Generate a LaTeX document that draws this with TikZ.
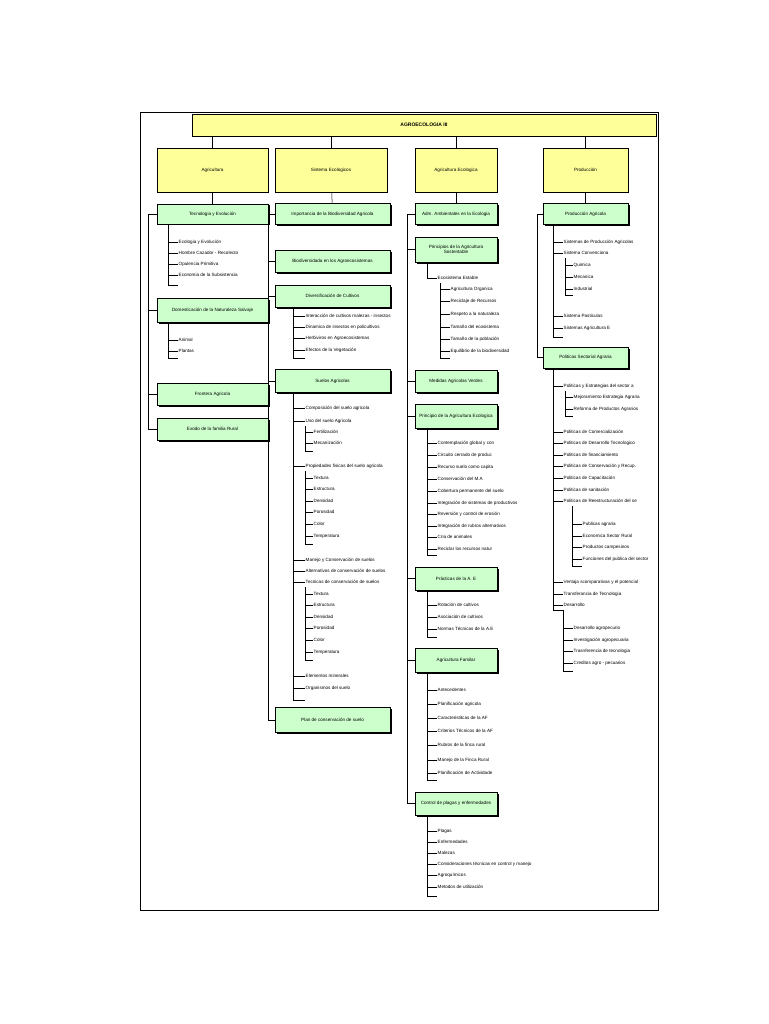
\documentclass[tikz,border=0pt]{standalone}
\usepackage{fontspec}
\setmainfont{Liberation Sans}
\usetikzlibrary{shadows}
\definecolor{boxgreen}{HTML}{CCFFCC}
\definecolor{boxyellow}{HTML}{FFFF99}

\begin{document}
\begin{tikzpicture}[x=1pt, y=-1pt,
every node/.style = {font=\fontsize{4.6}{5.5}\selectfont, inner sep=0.5pt},
head/.style = {draw, line width=0.6pt, fill=boxyellow,
  general shadow={fill=black, shadow xshift=1.2pt, shadow yshift=-1.2pt}},
gbox/.style = {draw, line width=0.6pt, fill=boxgreen, align=center,
  general shadow={fill=black, shadow xshift=1.5pt, shadow yshift=-1.5pt}},
leaf/.style = {anchor=west},
link/.style = {line width=0.5pt}
]
\useasboundingbox (0,0) rectangle (768,1024);
\draw[line width=0.8pt] (140,112) rectangle (658,910);

% title and heads
\node[head, minimum width=464, minimum height=22, font=\fontsize{5}{6}\selectfont\bfseries] (title) at (424,125) {AGROECOLOGIA III};
\node[head, minimum width=111, minimum height=44] (agri) at (212.5,170) {Agricultura};
\node[head, minimum width=112, minimum height=44] (sist) at (331,170) {Sistema Ecologicos};
\node[head, minimum width=82, minimum height=44] (agec) at (456,170) {Agricultura Ecologica};
\node[head, minimum width=85, minimum height=44] (prod) at (585.5,170) {Producción};
\foreach \h in {agri,sist,agec,prod}
  \draw[link] (title.south -| \h.north) -- (\h.north);

% column 1
\node[gbox, minimum width=111, minimum height=20] (tec) at (212.5,214) {Tecnologia y Evolución};
\node[gbox, minimum width=111, minimum height=24] (dom) at (212.5,310) {Domesticación de la Naturaleza Salvaje};
\node[gbox, minimum width=111, minimum height=22] (fro) at (212.5,394) {Frontera Agricola};
\node[gbox, minimum width=111, minimum height=22] (exo) at (212.5,429) {Exodo de la familia Rural};
\draw[link] (agri) -- (tec);
\coordinate (s1) at (148,214);
\draw[link] (tec.west) -- (s1) |- (exo.west);
\foreach \b in {dom,fro} \draw[link] (s1 |- \b.west) -- (\b.west);
\draw[link] (168,224) -- (168,285) -- (178,285);
\foreach \y/\t in {242/Ecologia y Evolución, 253/Hombre  Cazador - Recolecto, 264/Opulencia Primitiva, 275/Economia de la Subsistencia}
  {\node[leaf] (a\y) at (178,\y) {\t}; \draw[link] (168,\y) -- (a\y.west);}
\draw[link] (168,322) -- (168,358) -- (178,358);
\foreach \y/\t in {340/Animal, 351/Plantas}
  {\node[leaf] (b\y) at (178,\y) {\t}; \draw[link] (168,\y) -- (b\y.west);}

% column 2
\node[gbox, minimum width=115, minimum height=21] (imp) at (332.5,214) {Importancia de la Biodiversidad  Agricola};
\node[gbox, minimum width=115, minimum height=22] (bio) at (332.5,261) {Biodiversidada en los Agroecosistemas};
\node[gbox, minimum width=115, minimum height=22] (div) at (332.5,296) {Diversificación de Cultivos};
\node[gbox, minimum width=115, minimum height=23] (sue) at (332.5,381) {Suelos Agricolas};
\node[gbox, minimum width=115, minimum height=25] (pla) at (332.5,720) {Plan de conservación de suelo};
\draw[link] (sist) -- (imp);
\coordinate (s2) at (268,214);
\draw[link] (imp.west) -- (s2) |- (pla.west);
\foreach \b in {bio,div,sue} \draw[link] (s2 |- \b.west) -- (\b.west);
\draw[link] (293,307) -- (293,358) -- (305,358);
\foreach \y/\t in {316/Interacción de cultivos malezas - insectos, 327/Dinamica de insectos en policultivos, 338/Herbiviros en Agroecosistemas, 350/Efectos de la Vegetación}
  {\node[leaf] (c\y) at (305,\y) {\t}; \draw[link] (293,\y) -- (c\y.west);}
\draw[link] (293,393) -- (293,700) -- (305,700);
\foreach \y/\t in {408/Composición del suelo agricola, 421/Uso del suelo Agricola, 466/Propiedades fisicas del suelo agricola, 560/Manejo y Conservación de suelos, 571/Alternativos de conservación de suelos, 582/Tecnicas de conservación de suelos, 676/Elementos minerales, 688/Organismos del suelo}
  {\node[leaf] (d\y) at (305,\y) {\t}; \draw[link] (293,\y) -- (d\y.west);}
\draw[link] (305,426) -- (305,451) -- (313,451);
\foreach \y/\t in {432/Fertilización, 443/Mecanización}
  {\node[leaf] (e\y) at (313,\y) {\t}; \draw[link] (305,\y) -- (e\y.west);}
\draw[link] (305,471) -- (305,544) -- (313,544);
\foreach \y/\t in {478/Textura, 489/Estructura, 501/Densidad, 512/Porosidad, 524/Color, 536/Temperatura}
  {\node[leaf] (f\y) at (313,\y) {\t}; \draw[link] (305,\y) -- (f\y.west);}
\draw[link] (305,587) -- (305,660) -- (313,660);
\foreach \y/\t in {594/Textura, 605/Estructura, 617/Densidad, 628/Porosidad, 640/Color, 652/Temperatura}
  {\node[leaf] (g\y) at (313,\y) {\t}; \draw[link] (305,\y) -- (g\y.west);}

% column 3
\node[gbox, minimum width=82, minimum height=21] (adm) at (456,214) {Adm. Ambientales en la Ecologia};
\node[gbox, minimum width=82, minimum height=25] (pso) at (456,249.5) {Principios de la Agricultura\\Sostentable};
\node[gbox, minimum width=82, minimum height=22] (med) at (456,381) {Medidas Agricolas Verdes};
\node[gbox, minimum width=82, minimum height=24] (pec) at (456,416) {Principio de la Agricultura Ecologica};
\node[gbox, minimum width=82, minimum height=23] (pra) at (456,578.5) {Prácticas de la A. E};
\node[gbox, minimum width=82, minimum height=24] (fam) at (456,660) {Agricultura Familar};
\node[gbox, minimum width=82, minimum height=23] (con) at (456,803.5) {Control de plagas y enfermedades};
\draw[link] (agec) -- (adm);
\coordinate (s3) at (407,214);
\draw[link] (adm.west) -- (s3) |- (con.west);
\foreach \b in {pso,med,pec,pra,fam} \draw[link] (s3 |- \b.west) -- (\b.west);
\draw[link] (427,262) -- (427,278) -- (437,278);
\node[leaf] (eco) at (437,278) {Ecosistema Estable};
\draw[link] (440,283) -- (440,358) -- (450,358);
\foreach \y/\t in {289/Agricultura Organica, 301/Reciclaje de Recursos, 314/Respeto a la naturaleza, 327/Tamaño del ecosistema, 339/Tamaño de la población, 351/Equilibrio de la biodiversidad}
  {\node[leaf] (h\y) at (450,\y) {\t}; \draw[link] (440,\y) -- (h\y.west);}
\draw[link] (427,428) -- (427,555) -- (437,555);
\foreach \y/\t in {443/Contemplación global y con, 455/Circuito cerrado de produc, 467/Recurso suelo como capita, 479/Conservación del M.A, 491/Cobertura permanente del suelo, 503/Integración de sistemas de productivos, 514/Reversión y control de erosión, 526/Integración de rubros alternativos, 537/Cria de animales, 549/Reciclar los recursos natur}
  {\node[leaf] (i\y) at (437,\y) {\t}; \draw[link] (427,\y) -- (i\y.west);}
\draw[link] (427,590) -- (427,637) -- (437,637);
\foreach \y/\t in {605/Rotación de cultivos, 617/Asociación de cultivos, 629/Normas Técnicas de la A.E}
  {\node[leaf] (j\y) at (437,\y) {\t}; \draw[link] (427,\y) -- (j\y.west);}
\draw[link] (427,672) -- (427,780) -- (437,780);
\foreach \y/\t in {690/Antecedentes, 704/Planificación agricola, 718/Caracteristitcas de la AF, 731/Criterios Técnicos de la AF, 745/Rubros de la finca rural, 760/Manejo de la Finca Rural, 773/Planificación  de Actividade}
  {\node[leaf] (k\y) at (437,\y) {\t}; \draw[link] (427,\y) -- (k\y.west);}
\draw[link] (427,815) -- (427,896) -- (437,896);
\foreach \y/\t in {831/Plagas, 842/Enfermedades, 853/Malezas, 864/Consideraciones técnicas en control y manejo, 875/Agroquímicos, 887/Metodos de utilización}
  {\node[leaf] (m\y) at (437,\y) {\t}; \draw[link] (427,\y) -- (m\y.west);}

% column 4
\node[gbox, minimum width=85, minimum height=21] (pag) at (585.5,214) {Producción Agricola};
\node[gbox, minimum width=85, minimum height=21] (pol) at (585.5,357.5) {Politicas Sectorial Agraria};
\draw[link] (prod) -- (pag);
\coordinate (s4) at (537,214);
\draw[link] (pag.west) -- (s4) |- (pol.west);
\draw[link] (553,225) -- (553,337) -- (563,337);
\foreach \y/\t in {242/Sistemas de Producción Agricolas, 253/Sistema Convenciona, 316/Sistema Pasticulas, 328/Sistemas Agricultura E}
  {\node[leaf] (n\y) at (563,\y) {\t}; \draw[link] (553,\y) -- (n\y.west);}
\draw[link] (565,258) -- (565,295) -- (573,295);
\foreach \y/\t in {265/Quimica, 277/Mecanica, 289/Industrial}
  {\node[leaf] (o\y) at (573,\y) {\t}; \draw[link] (565,\y) -- (o\y.west);}
\draw[link] (553,368) -- (553,610) -- (563,610);
\foreach \y/\t in {386/Politicas y Estrategias del sector a, 432/Politicas de Comercialización, 443/Politicas de Desarrollo Tecnologico, 455/Politicas de financiamiento, 466/Politicas de Conservación y Recup., 478/Politicas de Capacitación, 490/Politicas de sanitación, 501/Politicas de Reestructuración del se, 582/Ventaja scomparativas y el potencial, 594/Transferancia de Tecnologia, 605/Desarrollo}
  {\node[leaf] (p\y) at (563,\y) {\t}; \draw[link] (553,\y) -- (p\y.west);}
\draw[link] (565,391) -- (565,416) -- (573,416);
\foreach \y/\t in {397/Mejoramiento  Estrategia Agraria, 409/Reforma de Productos Agrarios}
  {\node[leaf] (q\y) at (573,\y) {\t}; \draw[link] (565,\y) -- (q\y.west);}
\draw[link] (572,506) -- (572,566) -- (582,566);
\foreach \y/\t in {524/Publicas agraria, 536/Economica Sector Rural, 547/Productos campesinos, 559/Funciones del publica del sector}
  {\node[leaf] (r\y) at (582,\y) {\t}; \draw[link] (572,\y) -- (r\y.west);}
\draw[link] (563,610) -- (563,671) -- (573,671);
\foreach \y/\t in {628/Desarrollo agropecurio, 640/Investigación agropecuaria, 651/Trasnferencia de tecnologia, 663/Creditos agro - pecuarios}
  {\node[leaf] (t\y) at (573,\y) {\t}; \draw[link] (563,\y) -- (t\y.west);}
\end{tikzpicture}
\end{document}
